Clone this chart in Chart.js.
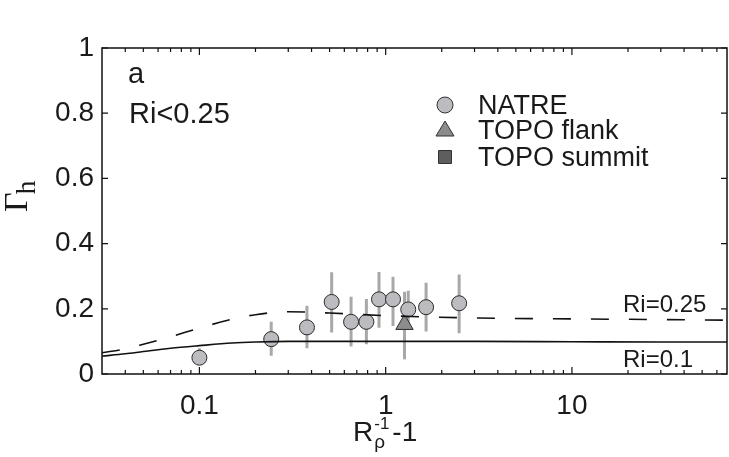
<!DOCTYPE html>
<html>
<head>
<meta charset="utf-8">
<script src="https://cdn.jsdelivr.net/npm/chart.js@4/dist/chart.umd.min.js"></script>
<style>
  html, body { margin: 0; padding: 0; background: #ffffff; }
  #c { display: block; }
</style>
</head>
<body>
<canvas id="c" width="729" height="457"></canvas>
<script>
// ---- data ----
const natreX  = [0.1, 0.243, 0.378, 0.513, 0.652, 0.788, 0.921, 1.095, 1.322, 1.648, 2.48];
const natreY  = [0.050, 0.107, 0.143, 0.221, 0.160, 0.160, 0.229, 0.229, 0.198, 0.205, 0.217];
const natreLo = [0.030, 0.056, 0.079, 0.127, 0.084, 0.091, 0.142, 0.147, 0.135, 0.130, 0.125];
const natreHi = [0.079, 0.160, 0.209, 0.312, 0.237, 0.230, 0.313, 0.298, 0.255, 0.280, 0.305];

const flankX  = [1.262];
const flankY  = [0.152];
const flankLo = [0.045];
const flankHi = [0.252];

const summitX = [];
const summitY = [];

const curveX   = [0.03, 0.04, 0.05, 0.07, 0.1, 0.15, 0.2, 0.3, 0.5, 1, 3, 10, 30, 68];
const ri01Y    = [0.055, 0.062, 0.069, 0.079, 0.087, 0.095, 0.098, 0.100, 0.100, 0.100, 0.100, 0.099, 0.098, 0.098];
const ri025Y   = [0.065, 0.077, 0.091, 0.114, 0.141, 0.168, 0.182, 0.191, 0.187, 0.179, 0.172, 0.169, 0.167, 0.165];

const xTickValues = [0.1, 1, 10];
const xTickLabels = ['0.1', '1', '10'];
const yTickValues = [0, 0.2, 0.4, 0.6, 0.8, 1];
const yTickLabels = ['0', '0.2', '0.4', '0.6', '0.8', '1'];
const xMinorTicks = [0.04,0.05,0.06,0.07,0.08,0.09,0.2,0.3,0.4,0.5,0.6,0.7,0.8,0.9,2,3,4,5,6,7,8,9,20,30,40,50,60];

const legendLabels = ['NATRE', 'TOPO flank', 'TOPO summit'];
const curveLabels = ['Ri=0.25', 'Ri=0.1'];

// ---- build ----
const pts = (xs, ys) => xs.map((x, i) => ({ x: x, y: ys[i] }));
function errPts(xs, lo, hi) {
  const out = [];
  xs.forEach((x, i) => { out.push({ x: x, y: lo[i] }, { x: x, y: hi[i] }, { x: x, y: null }); });
  return out;
}

const SANS = "'Liberation Sans', Arial, Helvetica, sans-serif";
const SERIF = "'Liberation Serif', 'Times New Roman', serif";
const TXT = '#1a1a1a';

const overlay = {
  id: 'overlay',
  afterDatasetsDraw(chart) {
    const ctx = chart.ctx, a = chart.chartArea;
    const xs = chart.scales.x, ys = chart.scales.y;
    ctx.save();
    // box
    ctx.strokeStyle = '#111';
    ctx.lineWidth = 1.5;
    ctx.strokeRect(a.left, a.top, a.right - a.left, a.bottom - a.top);
    // ticks
    ctx.lineWidth = 1.2;
    ctx.beginPath();
    yTickValues.forEach(v => {
      const p = ys.getPixelForValue(v);
      ctx.moveTo(a.left, p); ctx.lineTo(a.left + 6, p);
      ctx.moveTo(a.right, p); ctx.lineTo(a.right - 6, p);
    });
    xTickValues.forEach(v => {
      const p = xs.getPixelForValue(v);
      ctx.moveTo(p, a.bottom); ctx.lineTo(p, a.bottom - 7);
      ctx.moveTo(p, a.top); ctx.lineTo(p, a.top + 7);
    });
    xMinorTicks.forEach(v => {
      const p = xs.getPixelForValue(v);
      ctx.moveTo(p, a.bottom); ctx.lineTo(p, a.bottom - 4);
      ctx.moveTo(p, a.top); ctx.lineTo(p, a.top + 4);
    });
    ctx.stroke();

    ctx.fillStyle = TXT;
    ctx.textBaseline = 'alphabetic';
    ctx.textAlign = 'left';
    // panel texts
    ctx.font = '29px ' + SANS;
    ctx.fillText('a', 128, 83);
    ctx.fillText('Ri<0.25', 129, 123);

    // legend
    const lx = 445, tx = 478, rows = [105, 130, 157];
    ctx.font = '27px ' + SANS;
    legendLabels.forEach((t, i) => ctx.fillText(t, tx, rows[i] + 9));
    ctx.lineWidth = 1;
    ctx.strokeStyle = '#333';
    // circle
    ctx.beginPath(); ctx.arc(lx, rows[0], 8, 0, Math.PI * 2);
    ctx.fillStyle = '#bcbcc0'; ctx.fill(); ctx.stroke();
    // triangle
    ctx.beginPath();
    ctx.moveTo(lx, rows[1] - 9); ctx.lineTo(lx + 9, rows[1] + 6); ctx.lineTo(lx - 9, rows[1] + 6); ctx.closePath();
    ctx.fillStyle = '#8c8c8c'; ctx.fill(); ctx.stroke();
    // square
    ctx.beginPath(); ctx.rect(lx - 6.5, rows[2] - 6.5, 13, 13);
    ctx.fillStyle = '#5e5e5e'; ctx.fill(); ctx.stroke();

    // curve labels
    ctx.fillStyle = TXT;
    ctx.font = '24px ' + SANS;
    ctx.fillText(curveLabels[0], 623, 312);
    ctx.fillText(curveLabels[1], 623, 367);

    // x title  R_rho^{-1}-1
    const bx = 353, by = 441;
    ctx.font = '28px ' + SANS;
    ctx.fillText('R', bx, by);
    const rw = ctx.measureText('R').width;
    ctx.font = '19px ' + SANS;
    ctx.fillText('\u03C1', bx + rw + 1, by + 7);
    ctx.font = '17px ' + SANS;
    ctx.fillText('-1', bx + rw + 1, by - 12);
    const sw = ctx.measureText('-1').width;
    ctx.font = '28px ' + SANS;
    ctx.fillText('-1', bx + rw + sw + 4, by);

    // y title Gamma_h (rotated)
    ctx.save();
    ctx.translate(27, 212);
    ctx.rotate(-Math.PI / 2);
    ctx.font = '34px ' + SERIF;
    ctx.fillText('\u0393', 0, 0);
    const gw = ctx.measureText('\u0393').width;
    ctx.font = '27px ' + SERIF;
    ctx.fillText('h', gw - 2, 8);
    ctx.restore();

    ctx.restore();
  }
};

new Chart(document.getElementById('c'), {
  type: 'scatter',
  data: {
    datasets: [
      { label: curveLabels[1], data: pts(curveX, ri01Y), showLine: true, pointRadius: 0,
        borderColor: '#111', borderWidth: 1.6, cubicInterpolationMode: 'monotone', order: 0 },
      { label: curveLabels[0], data: pts(curveX, ri025Y), showLine: true, pointRadius: 0,
        borderColor: '#111', borderWidth: 1.6, borderDash: [18, 20], cubicInterpolationMode: 'monotone', order: 0 },
      { label: legendLabels[0], data: pts(natreX, natreY), pointStyle: 'circle', pointRadius: 7.5,
        backgroundColor: '#bcbcc0', borderColor: '#2a2a2a', borderWidth: 1, order: 1 },
      { label: legendLabels[1], data: pts(flankX, flankY), pointStyle: 'triangle', pointRadius: 10,
        backgroundColor: '#8c8c8c', borderColor: '#2a2a2a', borderWidth: 1, order: 1 },
      { label: legendLabels[2], data: pts(summitX, summitY), pointStyle: 'rect', pointRadius: 7,
        backgroundColor: '#5e5e5e', borderColor: '#2a2a2a', borderWidth: 1, order: 1 },
      { label: 'NATRE error', data: errPts(natreX, natreLo, natreHi), showLine: true, spanGaps: false,
        pointRadius: 0, borderColor: '#a8a8a8', borderWidth: 3, order: 2 },
      { label: 'flank error', data: errPts(flankX, flankLo, flankHi), showLine: true, spanGaps: false,
        pointRadius: 0, borderColor: '#a8a8a8', borderWidth: 3, order: 2 }
    ]
  },
  options: {
    responsive: false,
    animation: false,
    devicePixelRatio: 1,
    layout: { autoPadding: false, padding: { top: 48, right: 2, left: 0, bottom: 0 } },
    plugins: { legend: { display: false }, tooltip: { enabled: false } },
    scales: {
      x: {
        type: 'logarithmic', min: 0.03, max: 68, position: 'bottom',
        afterBuildTicks: s => { s.ticks = xTickValues.map(v => ({ value: v })); },
        afterFit: s => { s.height = 83; s.paddingLeft = 0; s.paddingRight = 0; },
        ticks: {
          autoSkip: false, maxRotation: 0, padding: 15, color: TXT,
          font: { family: SANS, size: 28 },
          callback: (v) => { const i = xTickValues.indexOf(v); return i >= 0 ? xTickLabels[i] : ''; }
        },
        grid: { display: false, drawTicks: false },
        border: { display: false }
      },
      y: {
        min: 0, max: 1,
        afterBuildTicks: s => { s.ticks = yTickValues.map(v => ({ value: v })); },
        afterFit: s => { s.width = 102; s.paddingTop = 0; s.paddingBottom = 0; },
        ticks: {
          padding: 8, color: TXT,
          font: { family: SANS, size: 28 },
          callback: (v) => { const i = yTickValues.indexOf(v); return i >= 0 ? yTickLabels[i] : ''; }
        },
        grid: { display: false, drawTicks: false },
        border: { display: false }
      }
    }
  },
  plugins: [overlay]
});
</script>
</body>
</html>
